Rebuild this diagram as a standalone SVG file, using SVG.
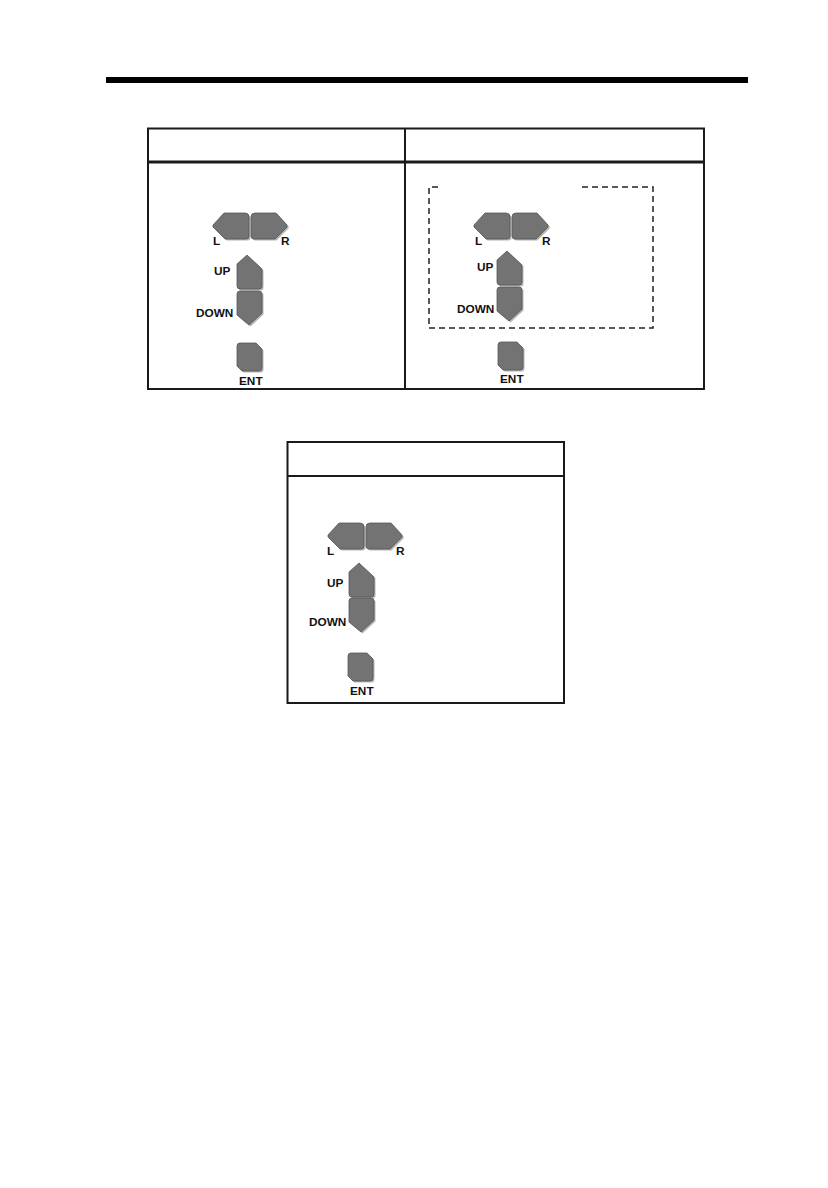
<svg xmlns="http://www.w3.org/2000/svg" xmlns:xlink="http://www.w3.org/1999/xlink" width="828" height="1188" viewBox="0 0 828 1188">
<style>
.frame{fill:none;stroke:#1a1a1a;stroke-width:2}
.hdr{stroke:#1a1a1a;stroke-width:3}
.lbl{font-family:"Liberation Sans",Arial,sans-serif;font-weight:bold;font-size:11.8px;fill:#111}
.btn{fill:#737373;stroke:#555;stroke-width:0.8}
.sh{fill:#b4b4b4}
.dash{fill:none;stroke:#222;stroke-width:1.5;stroke-dasharray:6 4}
</style>
<defs>
<path id="pL" d="M11,0 L32,0 Q36,0 36,4 L36,23 Q36,26 33,26 L12,26 L0,14 L0,12 Z"/>
<path id="pR" d="M4,0 L25,0 L36,12 L36,14 L24,26 L3,26 Q0,26 0,23 L0,4 Q0,0 4,0 Z"/>
<path id="pU" d="M10,0 L25,14 L25,31 Q25,34 22,34 L3,34 Q0,34 0,31 L0,9 Z"/>
<path id="pD" d="M3,0 L22,0 Q25,0 25,3 L25,22 L12,34 L0,24 L0,3 Q0,0 3,0 Z"/>
<path id="pE" d="M3,0 L19,0 L25,6 L25,25 Q25,28 22,28 L5,28 L0,23 L0,3 Q0,0 3,0 Z"/>
<g id="bL"><use xlink:href="#pL" class="sh" x="1.5" y="1.5"/><use xlink:href="#pL" class="btn"/></g>
<g id="bR"><use xlink:href="#pR" class="sh" x="1.5" y="1.5"/><use xlink:href="#pR" class="btn"/></g>
<g id="bU"><use xlink:href="#pU" class="sh" x="1.5" y="1.5"/><use xlink:href="#pU" class="btn"/></g>
<g id="bD"><use xlink:href="#pD" class="sh" x="1.5" y="1.5"/><use xlink:href="#pD" class="btn"/></g>
<g id="bE"><use xlink:href="#pE" class="sh" x="1.5" y="1.5"/><use xlink:href="#pE" class="btn"/></g>
</defs>
<rect width="828" height="1188" fill="#fff"/>
<rect id="topbar" x="106" y="77" width="642" height="6" fill="#000"/>

<g id="table1">
<rect class="frame" x="148" y="128.5" width="556" height="260.5"/>
<line class="hdr" x1="148" y1="162" x2="704" y2="162"/>
<line class="frame" x1="405" y1="128.5" x2="405" y2="389"/>
</g>

<g id="keys1">
<use xlink:href="#bL" x="213" y="213"/>
<use xlink:href="#bR" x="251" y="213"/>
<use xlink:href="#bU" x="237" y="255"/>
<use xlink:href="#bD" x="237" y="291"/>
<use xlink:href="#bE" x="237" y="343"/>
<text class="lbl" x="213" y="245">L</text>
<text class="lbl" x="281" y="245">R</text>
<text class="lbl" x="214" y="275">UP</text>
<text class="lbl" x="196" y="317">DOWN</text>
<text class="lbl" x="239" y="385">ENT</text>
</g>

<g id="keys2">
<path class="dash" d="M438,187 L429,187 L429,328 L653,328 L653,187 L580,187"/>
<use xlink:href="#bL" x="474" y="213"/>
<use xlink:href="#bR" x="512" y="213"/>
<use xlink:href="#bU" x="497" y="251"/>
<use xlink:href="#bD" x="497" y="287"/>
<use xlink:href="#bE" x="498" y="342"/>
<text class="lbl" x="475" y="245">L</text>
<text class="lbl" x="542" y="245">R</text>
<text class="lbl" x="477" y="271">UP</text>
<text class="lbl" x="457" y="313">DOWN</text>
<text class="lbl" x="500" y="383">ENT</text>
</g>

<g id="table2">
<rect class="frame" x="287.5" y="442" width="276.5" height="261"/>
<line class="frame" x1="287.5" y1="476" x2="564" y2="476"/>
</g>

<g id="keys3">
<use xlink:href="#bL" x="328" y="523"/>
<use xlink:href="#bR" x="366" y="523"/>
<use xlink:href="#bU" x="349" y="563"/>
<use xlink:href="#bD" x="349" y="598"/>
<use xlink:href="#bE" x="348" y="653"/>
<text class="lbl" x="327" y="555">L</text>
<text class="lbl" x="396" y="555">R</text>
<text class="lbl" x="327" y="587">UP</text>
<text class="lbl" x="309" y="626">DOWN</text>
<text class="lbl" x="350" y="695">ENT</text>
</g>
</svg>
